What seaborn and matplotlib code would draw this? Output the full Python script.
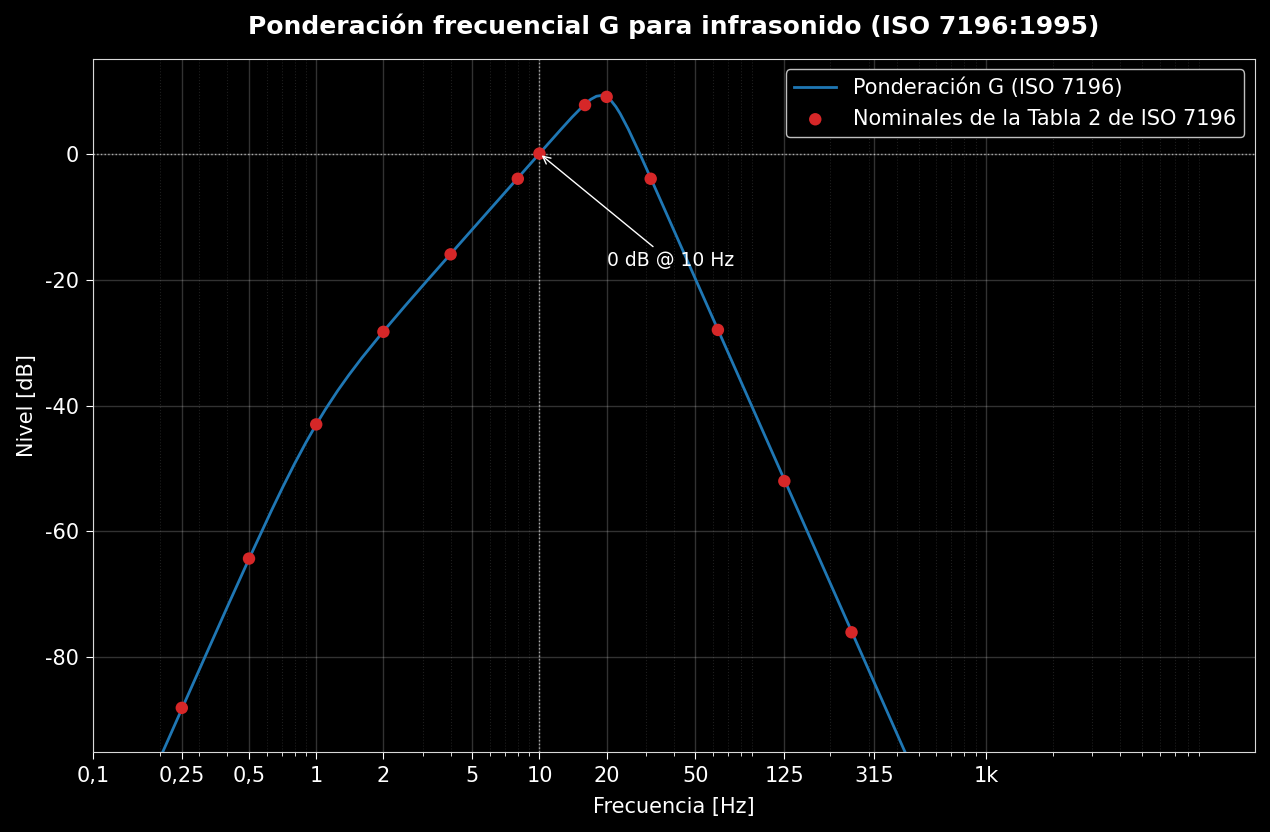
import numpy as np
import pandas as pd
import matplotlib
matplotlib.use("Agg")
import matplotlib.pyplot as plt
import seaborn as sns
from matplotlib.ticker import FixedLocator, FixedFormatter, LogLocator, NullFormatter

# G-weighting curve, values at these frequencies
curve_freq = [0.2, 0.25, 0.315, 0.4, 0.5, 0.63, 0.71, 0.8, 0.9, 1, 1.1, 1.25, 1.4, 1.6,
              2, 2.5, 3.15, 4, 5, 6.3, 8, 10, 12.5, 14, 16, 17, 18, 19, 20, 21, 22,
              23, 25, 28, 31.5, 40, 50, 63, 80, 100, 125, 160, 200, 250, 315, 400, 500]
curve_db = [-95.92, -88.18, -80.18, -71.94, -64.35, -56.69, -52.88, -49.24, -45.85, -43.01,
            -40.60, -37.61, -35.16, -32.45, -28.22, -24.19, -20.11, -15.94, -12.05, -8.03,
            -3.88, 0.0, 3.86, 5.78, 7.87, 8.62, 9.10, 9.23, 8.97, 8.34, 7.43, 6.33, 3.88,
            0.15, -3.89, -12.17, -19.93, -27.95, -36.25, -44.01, -51.76, -60.34, -68.09,
            -75.84, -83.87, -92.17, -99.92]

# Nominal values (Table 2)
nom_freq = [0.25, 0.5, 1, 2, 4, 8, 10, 16, 20, 31.5, 63, 125, 250]
nom_db = [-88.0, -64.3, -43.0, -28.3, -16.0, -4.0, 0.0, 7.7, 9.0, -4.0, -28.0, -52.0, -76.0]

tick_pos = [0.1, 0.25, 0.5, 1, 2, 5, 10, 20, 50, 125, 315, 1000]
tick_lab = ["0,1", "0,25", "0,5", "1", "2", "5", "10", "20", "50", "125", "315", "1k"]

curve = pd.DataFrame({"f": curve_freq, "db": curve_db})
nominal = pd.DataFrame({"f": nom_freq, "db": nom_db})

plt.style.use("dark_background")
plt.rcParams["axes.unicode_minus"] = False
plt.rcParams["font.family"] = ["DejaVu Sans"]

fig, ax = plt.subplots(figsize=(12.7, 8.32), dpi=100)
fig.subplots_adjust(left=0.0732, right=0.988, top=0.929, bottom=0.0962)
fig.patch.set_facecolor("black")
ax.set_facecolor("black")

sns.lineplot(data=curve, x="f", y="db", ax=ax, color="#1f77b4", linewidth=2.0,
             label="Ponderación G (ISO 7196)")
sns.scatterplot(data=nominal, x="f", y="db", ax=ax, color="#d62728", s=80,
                edgecolor="none", zorder=3, label="Nominales de la Tabla 2 de ISO 7196")

ax.set_xscale("log")
ax.set_xlim(0.1, 16000)
ax.set_ylim(-95, 15)

ax.xaxis.set_major_locator(FixedLocator(tick_pos))
ax.xaxis.set_major_formatter(FixedFormatter(tick_lab))
ax.xaxis.set_minor_locator(LogLocator(base=10, subs="auto"))
ax.xaxis.set_minor_formatter(NullFormatter())
ax.set_yticks([0, -20, -40, -60, -80])

ax.grid(which="major", color="white", alpha=0.2, linewidth=1.0)
ax.grid(which="minor", color="white", alpha=0.12, linestyle=":", linewidth=0.8)

ax.axhline(0, color="0.6", linestyle=":", linewidth=1.0, zorder=1)
ax.axvline(10, color="0.6", linestyle=":", linewidth=1.0, zorder=1)

ax.annotate("0 dB @ 10 Hz", xy=(10, 0), xytext=(38.5, -17), ha="center", va="center",
            fontsize=13.5, color="white",
            arrowprops=dict(arrowstyle="->", color="white", lw=1.0))

for s in ax.spines.values():
    s.set_color("0.85")
ax.tick_params(which="major", labelsize=15, colors="white", length=5, pad=5)
ax.tick_params(which="minor", colors="white", length=2.8)
ax.set_xlabel("Frecuencia [Hz]", fontsize=15, labelpad=8)
ax.set_ylabel("Nivel [dB]", fontsize=15, labelpad=6)
ax.set_title("Ponderación frecuencial G para infrasonido (ISO 7196:1995)",
             fontsize=18, fontweight="bold", pad=18)

leg = ax.legend(loc="upper right", fontsize=15, facecolor="black", edgecolor="0.75",
                framealpha=1.0)

fig.savefig("out.png", dpi=100, facecolor="black")
